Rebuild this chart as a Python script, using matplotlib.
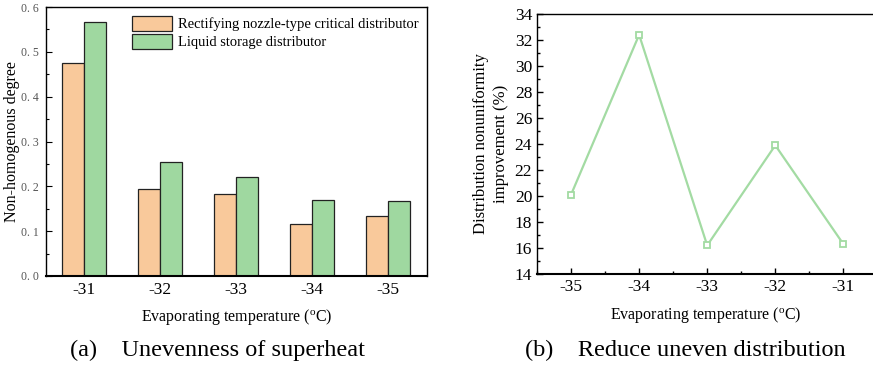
import matplotlib
matplotlib.use("Agg")
import matplotlib.pyplot as plt
from matplotlib.ticker import MultipleLocator, AutoMinorLocator
import numpy as np

plt.rcParams['font.family'] = ['Liberation Serif', 'DejaVu Serif']
plt.rcParams['mathtext.fontset'] = 'stix'

# Data
categories = ["-31", "-32", "-33", "-34", "-35"]
rectifying = [0.475, 0.193, 0.184, 0.115, 0.134]
liquid_storage = [0.567, 0.254, 0.220, 0.170, 0.168]
yticks_a = [0.0, 0.1, 0.2, 0.3, 0.4, 0.5, 0.6]

temps_b = [-35, -34, -33, -32, -31]
improvement = [20.1, 32.4, 16.2, 23.9, 16.3]

orange = "#F9C99B"
green = "#9FD8A0"
line_green = "#A3DBA3"

fig = plt.figure(figsize=(8.73, 3.68), dpi=100)

# ---- (a) bar chart
ax1 = fig.add_axes([46/873, 1-276/368, (427-46)/873, (276-7)/368])
x = np.arange(len(categories))
w = 0.29
ax1.bar(x - w/2, rectifying, w, color=orange, edgecolor='#222222', linewidth=0.9,
        label="Rectifying nozzle-type critical distributor")
ax1.bar(x + w/2, liquid_storage, w, color=green, edgecolor='#222222', linewidth=0.9,
        label="Liquid storage distributor")
ax1.set_xlim(-0.5, 4.51)
ax1.set_ylim(0, 0.6)
ax1.set_xticks(x)
ax1.set_xticklabels(categories, fontsize=12.5)
ax1.set_yticks(yticks_a)
ax1.set_yticklabels([f"{v:.1f}".replace(".", ". ") for v in yticks_a],
                    fontsize=8.5, color='#555555')
ax1.yaxis.set_minor_locator(AutoMinorLocator(2))
ax1.tick_params(axis='y', which='both', direction='in', left=True, right=False, pad=5)
ax1.tick_params(axis='y', which='major', length=4, width=0.8)
ax1.tick_params(axis='y', which='minor', length=2, width=0.8)
ax1.tick_params(axis='x', length=0, pad=4)
for s in ax1.spines.values():
    s.set_linewidth(1.0)
ax1.spines['bottom'].set_linewidth(1.5)
ax1.set_ylabel("Non-homogenous degree", fontsize=11.5)
ax1.yaxis.set_label_coords(-0.068, 0.5)
ax1.set_xlabel(r"Evaporating temperature ($\mathregular{^{o}}$C)", fontsize=11.5, labelpad=7)
leg = ax1.legend(loc='upper right', fontsize=10.5, frameon=False, handlelength=2.7,
                 handleheight=1.2, handletextpad=0.4, borderaxespad=0.2, labelspacing=0.2)

# ---- (b) line chart
ax2 = fig.add_axes([537/873, 1-274/368, (874-537)/873, (274-14)/368])
ax2.plot(temps_b, improvement, color=line_green, linewidth=1.6, marker='s',
         markersize=4.5, markerfacecolor='white', markeredgecolor=line_green,
         markeredgewidth=1.3)
ax2.set_xlim(-35.5, -30.55)
ax2.set_ylim(14, 34)
ax2.set_xticks(temps_b)
ax2.set_xticklabels([str(t) for t in temps_b], fontsize=12.5)
ax2.xaxis.set_minor_locator(AutoMinorLocator(2))
ax2.yaxis.set_major_locator(MultipleLocator(2))
ax2.yaxis.set_minor_locator(AutoMinorLocator(2))
ax2.tick_params(axis='both', which='both', direction='in', labelsize=12.5)
ax2.tick_params(axis='both', which='major', length=4, width=1)
ax2.tick_params(axis='both', which='minor', length=2, width=1)
ax2.spines['right'].set_visible(False)
for s in ['left', 'top']:
    ax2.spines[s].set_linewidth(1.0)
ax2.spines['bottom'].set_linewidth(1.5)
ax2.set_ylabel("Distribution nonuniformity\nimprovement (%)", fontsize=12,
               labelpad=4, linespacing=1.35)
ax2.set_xlabel(r"Evaporating temperature ($\mathregular{^{o}}$C)", fontsize=11.5, labelpad=7)

# Captions
fig.text(217/873, 1-350/368, "(a)    Unevenness of superheat", fontsize=17.5,
         ha='center', va='center')
fig.text(685/873, 1-350/368, "(b)    Reduce uneven distribution", fontsize=17.5,
         ha='center', va='center')

fig.savefig("out.png", dpi=100)
